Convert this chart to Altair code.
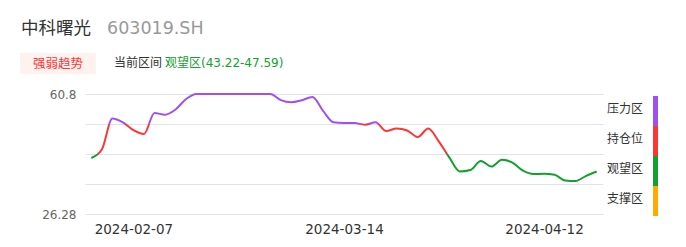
import altair as alt
import pandas as pd

# ---------------- data ----------------
dates = [
    "2024-02-01", "2024-02-02", "2024-02-05", "2024-02-06", "2024-02-07", "2024-02-08",
    "2024-02-19", "2024-02-20", "2024-02-21", "2024-02-22", "2024-02-23",
    "2024-02-26", "2024-02-27", "2024-02-28", "2024-02-29", "2024-03-01",
    "2024-03-04", "2024-03-05", "2024-03-06", "2024-03-07", "2024-03-08",
    "2024-03-11", "2024-03-12", "2024-03-13", "2024-03-14", "2024-03-15",
    "2024-03-18", "2024-03-19", "2024-03-20", "2024-03-21", "2024-03-22",
    "2024-03-25", "2024-03-26", "2024-03-27", "2024-03-28", "2024-03-29",
    "2024-04-01", "2024-04-02", "2024-04-03", "2024-04-08", "2024-04-09",
    "2024-04-10", "2024-04-11", "2024-04-12", "2024-04-15", "2024-04-16",
    "2024-04-17", "2024-04-18", "2024-04-19",
]
values = [
    42.39, 44.81, 53.75, 52.63, 50.39, 49.29, 55.33, 54.85, 56.34, 59.36,
    60.8, 60.8, 60.8, 60.8, 60.8, 60.8, 60.8, 60.8,
    59.02, 58.41, 59.02, 59.94, 56.00, 52.69, 52.46, 52.43, 51.97, 52.66,
    50.16, 50.88, 50.30, 48.43, 50.88, 47.19, 42.56, 38.51, 38.94, 41.53,
    39.94, 41.87, 41.07, 38.76, 37.79, 37.84, 37.56, 35.92, 35.77, 37.27,
    38.51,
]
tick_dates = ["2024-02-07", "2024-03-14", "2024-04-12"]
band_edges = [26.28, 34.91, 43.54, 52.17, 60.8]          # bottom -> top
band_names = ["支撑区", "观望区", "持仓位", "压力区"]        # bottom -> top
band_colors = ["#ffaa00", "#12a12e", "#ff3535", "#a04ff2"]  # bottom -> top

stock_name = "中科曙光"
stock_code = "603019.SH"
badge_text = "强弱趋势"
range_label = "当前区间"
range_text = "观望区(43.22-47.59)"

FONT = "DejaVu Sans, Noto Sans CJK SC"

df = pd.DataFrame({"date": dates, "value": values})

# gradient stops so that the line colour follows the band it is in
vmax, vmin = max(values), min(values)
stops = []
for i in range(len(band_names) - 1, -1, -1):  # top band first
    lo, hi = band_edges[i], band_edges[i + 1]
    if hi <= vmin or lo >= vmax:
        continue
    top = (vmax - min(hi, vmax)) / (vmax - vmin)
    bot = (vmax - max(lo, vmin)) / (vmax - vmin)
    stops.append({"offset": top, "color": band_colors[i]})
    stops.append({"offset": bot, "color": band_colors[i]})

gradient = alt.LinearGradient(gradient="linear", x1=0, y1=0, x2=0, y2=1, stops=stops)

yscale = alt.Scale(domain=[band_edges[0], band_edges[-1]], nice=False, zero=False)
yaxis = alt.Axis(
    values=band_edges, title=None, ticks=False, domain=False, grid=True,
    gridColor="#dfe3f1", gridWidth=1, labelFont=FONT, labelFontSize=12,
    labelColor="#666666", labelPadding=9,
    labelExpr=f"(datum.value == {band_edges[-1]} || datum.value == {band_edges[0]}) ? '' + datum.value : ''",
)

line = alt.Chart(df).mark_line(
    interpolate="monotone", strokeWidth=2, color=gradient
).encode(
    x=alt.X(
        "date:O",
        sort=None,
        scale=alt.Scale(type="point", padding=0.6),
        axis=alt.Axis(
            values=tick_dates, title=None, labelAngle=0, ticks=False, domain=False,
            grid=False, labelFont=FONT, labelFontSize=13.5, labelColor="#333333",
            labelPadding=8,
        ),
    ),
    y=alt.Y("value:Q", scale=yscale, axis=yaxis),
)

bands_df = pd.DataFrame({
    "lo": band_edges[:-1],
    "hi": band_edges[1:],
    "mid": [(a + b) / 2 for a, b in zip(band_edges[:-1], band_edges[1:])],
    "name": band_names,
    "color": band_colors,
})

legend_bar = alt.Chart(bands_df).mark_rect(yOffset=2, y2Offset=2).encode(
    x=alt.value(568), x2=alt.value(573),
    y=alt.Y("lo:Q", scale=yscale, axis=yaxis), y2="hi:Q",
    color=alt.Color("color:N", scale=None),
)

legend_text = alt.Chart(bands_df).mark_text(
    align="left", baseline="middle", font=FONT, fontSize=12, color="#333333"
).encode(
    x=alt.value(522),
    y=alt.Y("mid:Q", scale=yscale, axis=yaxis),
    text="name:N",
)

one = pd.DataFrame({"k": [0]})

title1 = alt.Chart(one).mark_text(
    align="left", baseline="middle", font=FONT, fontSize=17.5, color="#333333"
).encode(x=alt.value(-64), y=alt.value(-65), text=alt.value(stock_name))

title2 = alt.Chart(one).mark_text(
    align="left", baseline="middle", font=FONT, fontSize=17.5, color="#999999"
).encode(x=alt.value(22), y=alt.value(-65), text=alt.value(stock_code))

badge_bg = alt.Chart(one).mark_rect(color="#fff1ee").encode(
    x=alt.value(-65), x2=alt.value(11), y=alt.value(-41), y2=alt.value(-20)
)

badge = alt.Chart(one).mark_text(
    align="center", baseline="middle", font=FONT, fontSize=12.5, color="#ff3333"
).encode(x=alt.value(-27), y=alt.value(-30.5), text=alt.value(badge_text))

lbl1 = alt.Chart(one).mark_text(
    align="left", baseline="middle", font=FONT, fontSize=12, color="#333333"
).encode(x=alt.value(29), y=alt.value(-31), text=alt.value(range_label))

lbl2 = alt.Chart(one).mark_text(
    align="left", baseline="middle", font=FONT, fontSize=12, color="#12a12e"
).encode(x=alt.value(80), y=alt.value(-31), text=alt.value(range_text))

chart = alt.layer(
    line, legend_bar, legend_text, title1, title2, badge_bg, badge, lbl1, lbl2
).properties(
    width=518, height=120,
    autosize=alt.AutoSizeParams(type="none"),
    padding={"left": 85, "top": 94, "right": 83, "bottom": 33},
    background="white",
).configure_view(stroke=None)

chart.save("out.html", embed_options={"renderer": "svg", "actions": False})
